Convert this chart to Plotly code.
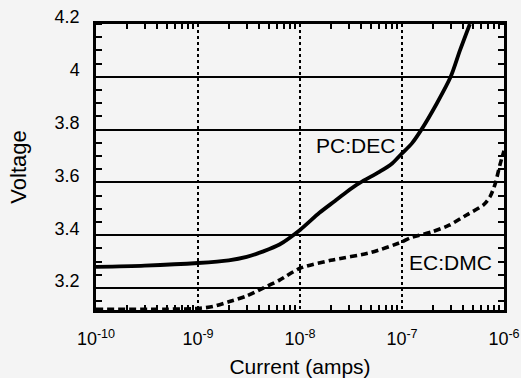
import plotly.graph_objects as go

# ---- data ----
pc_current = [1e-10, 3e-10, 1e-9, 2e-9, 3e-9, 4.3e-9, 6.3e-9, 1e-8, 1.55e-8, 2.2e-8, 2.84e-8, 3.85e-8, 6e-8, 8e-8, 1e-7, 1.25e-7, 1.55e-7, 2.2e-7, 3e-7, 3.7e-7, 4.63e-7]
pc_voltage = [3.280, 3.285, 3.295, 3.305, 3.318, 3.338, 3.365, 3.42, 3.485, 3.53, 3.563, 3.598, 3.64, 3.672, 3.71, 3.748, 3.80, 3.90, 4.0, 4.1, 4.2]

ec_current = [1e-10, 5e-10, 1e-9, 1.4e-9, 2e-9, 3e-9, 4.3e-9, 6.3e-9, 1e-8, 2e-8, 5e-8, 1e-7, 1.2e-7, 2e-7, 2.9e-7, 4.3e-7, 6.3e-7, 7.3e-7, 8.2e-7, 9.1e-7, 1e-6]
ec_voltage = [3.12, 3.12, 3.123, 3.13, 3.148, 3.17, 3.199, 3.23, 3.275, 3.305, 3.335, 3.375, 3.39, 3.414, 3.438, 3.477, 3.515, 3.546, 3.595, 3.665, 3.72]

x_tickvals = [1e-10, 1e-9, 1e-8, 1e-7, 1e-6]
x_ticktext = ["10<sup>-10</sup>", "10<sup>-9</sup>", "10<sup>-8</sup>", "10<sup>-7</sup>", "10<sup>-6</sup>"]
y_tickvals = [3.2, 3.4, 3.6, 3.8, 4.0, 4.2]
y_ticktext = ["3.2", "3.4", "3.6", "3.8", "4", "4.2"]

labels = ["PC:DEC", "EC:DMC"]

minor_x = [m * d for d in x_tickvals[:-1] for m in range(2, 10)]

FONT = "Liberation Sans, Arial, sans-serif"
BG = "#f4f4f4"

fig = go.Figure()
fig.add_trace(go.Scatter(x=pc_current, y=pc_voltage, mode="lines",
                         line=dict(color="black", width=3.8, shape="spline", smoothing=0.8),
                         showlegend=False))
fig.add_trace(go.Scatter(x=ec_current, y=ec_voltage, mode="lines",
                         line=dict(color="black", width=3.6, dash="7px,4px", shape="spline", smoothing=0.7),
                         showlegend=False))

fig.add_annotation(x=-7.46, y=3.74, text=labels[0], showarrow=False,
                   font=dict(family=FONT, size=21, color="black"))
fig.add_annotation(x=-6.52, y=3.295, text=labels[1], showarrow=False,
                   font=dict(family=FONT, size=21, color="black"))

fig.update_layout(
    width=521, height=378,
    margin=dict(l=96, r=17, t=24, b=68, autoexpand=False),
    paper_bgcolor=BG, plot_bgcolor=BG,
    font=dict(family=FONT, color="black"),
)
fig.update_xaxes(
    type="log", range=[-10, -6], automargin=False,
    tickmode="array", tickvals=x_tickvals, ticktext=x_ticktext,
    tickfont=dict(size=18, color="black"),
    ticks="", showline=True, linecolor="black", linewidth=2.5, mirror="allticks",
    showgrid=True, gridcolor="black", gridwidth=2, griddash="dot",
    zeroline=False, ticklabelstandoff=11,
    minor=dict(tickmode="array", tickvals=minor_x, ticks="inside", ticklen=5,
               tickwidth=1.5, tickcolor="black", showgrid=False),
    title=dict(text="Current (amps)", font=dict(size=21, color="black"), standoff=12),
)
fig.update_yaxes(
    range=[3.117, 4.2], automargin=False,
    tickmode="array", tickvals=y_tickvals, ticktext=y_ticktext,
    tickfont=dict(size=18, color="black"),
    ticks="", showline=True, linecolor="black", linewidth=2.5, mirror="allticks",
    showgrid=True, gridcolor="black", gridwidth=1.5,
    zeroline=False, ticklabelshift=-7, ticklabelstandoff=10,
    minor=dict(dtick=0.05, tick0=3.2, ticks="inside", ticklen=6,
               tickwidth=2, tickcolor="black", showgrid=False),
    title=dict(text="Voltage", font=dict(size=22, color="black"), standoff=22),
)

fig.write_html("out.html")
